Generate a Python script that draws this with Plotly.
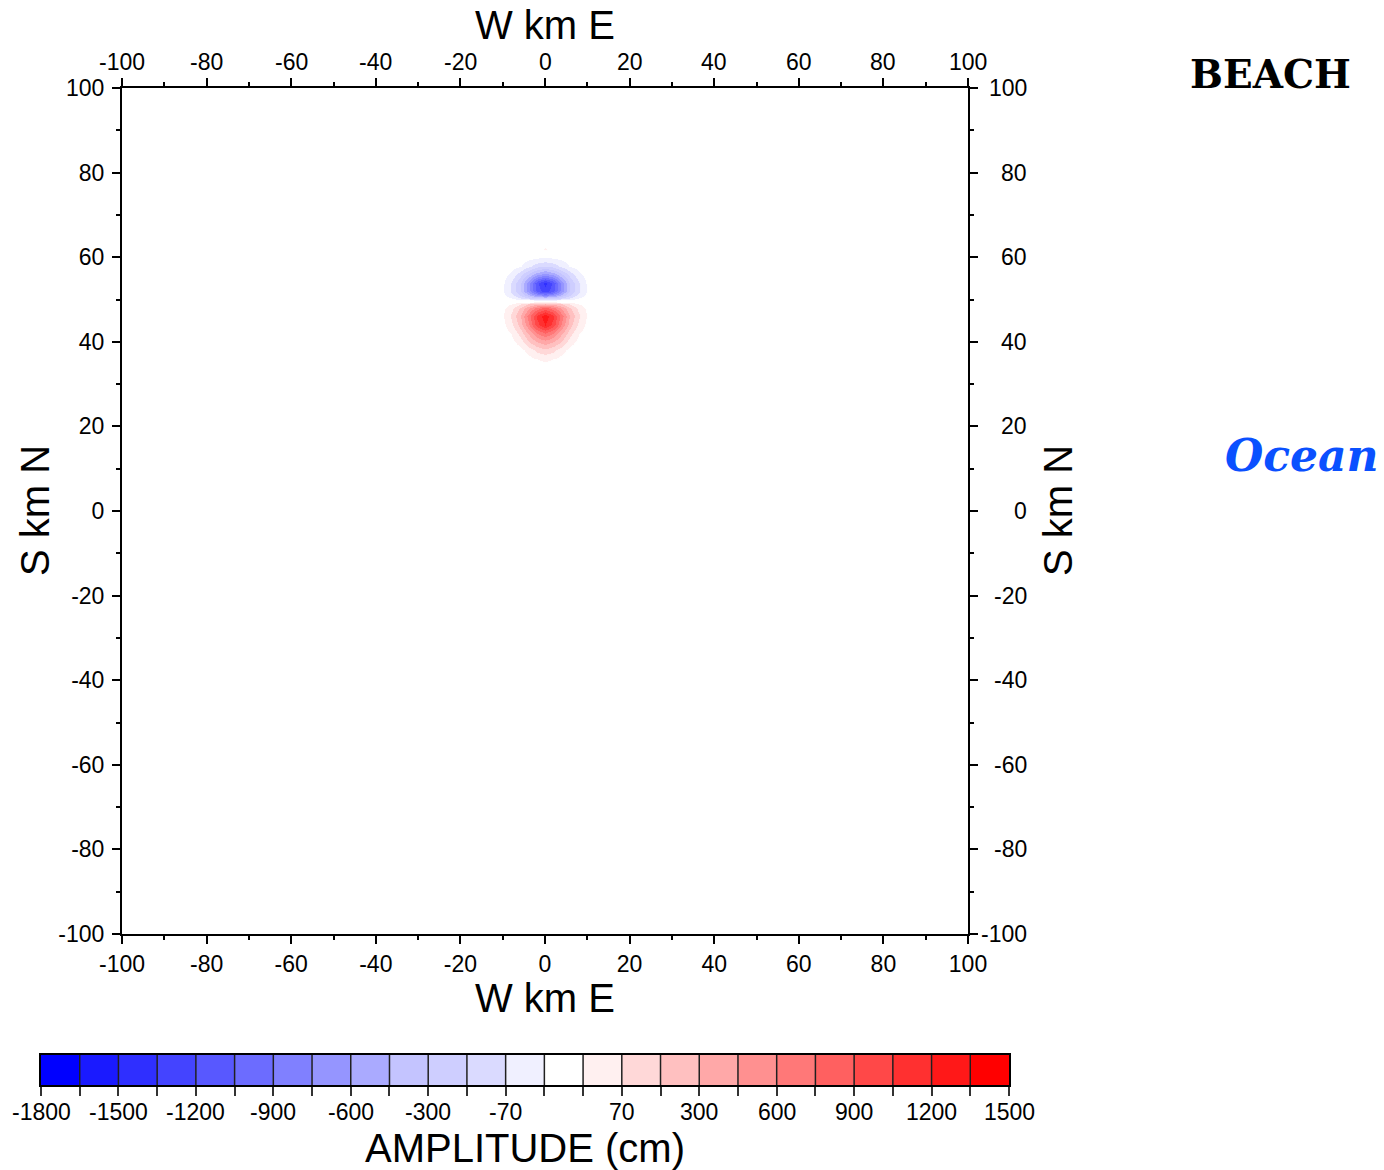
import numpy as np
import plotly.graph_objects as go

# ---------------- data ----------------
x_km = [-12, -10, -8, -6, -4, -2, 0, 2, 4, 6, 8, 10, 12]
y_km = [34, 36, 38, 40, 42, 44, 46, 48, 49, 49.4, 49.9, 50.4, 51, 52, 54, 56, 58, 60, 62, 64]

# amplitude (cm), rows follow y_km, columns follow x_km
amp_cm = [
    [0, 0, 0, 0, 1, 2, 3, 2, 1, 0, 0, 0, 0],
    [0, 0, 0, 1, 6, 20, 30, 20, 6, 1, 0, 0, 0],
    [0, 0, 1, 7, 36, 94, 130, 94, 36, 7, 1, 0, 0],
    [0, 1, 7, 38, 137, 295, 380, 295, 137, 38, 7, 1, 0],
    [0, 3, 21, 101, 308, 600, 750, 600, 308, 101, 21, 3, 0],
    [1, 9, 53, 206, 550, 988, 1200, 988, 550, 206, 53, 9, 1],
    [3, 17, 82, 274, 650, 1093, 1300, 1093, 650, 274, 82, 17, 3],
    [2, 11, 50, 169, 400, 673, 800, 673, 400, 169, 50, 11, 2],
    [1, 4, 19, 63, 150, 252, 300, 252, 150, 63, 19, 4, 1],
    [0, 0, 2, 6, 15, 25, 30, 25, 15, 6, 2, 0, 0],
    [0, 0, -2, -6, -15, -25, -30, -25, -15, -6, -2, 0, 0],
    [-1, -4, -19, -63, -150, -252, -300, -252, -150, -63, -19, -4, -1],
    [-2, -11, -50, -169, -400, -673, -800, -673, -400, -169, -50, -11, -2],
    [-3, -17, -82, -274, -650, -1093, -1300, -1093, -650, -274, -82, -17, -3],
    [-2, -14, -74, -266, -671, -1165, -1400, -1165, -671, -266, -74, -14, -2],
    [-1, -5, -29, -112, -298, -535, -650, -535, -298, -112, -29, -5, -1],
    [0, 0, -3, -15, -54, -116, -150, -116, -54, -15, -3, 0, 0],
    [0, 0, 0, -1, -4, -11, -15, -11, -4, -1, 0, 0, 0],
    [0, 0, 0, 0, 0, 0, 25, 0, 0, 0, 0, 0, 0],
    [0, 0, 0, 0, 0, 0, 0, 0, 0, 0, 0, 0, 0],
]

# colour-bar class boundaries (cm) and box colours
level_bounds = [-1800, -1650, -1500, -1350, -1200, -1050, -900, -750, -600, -450,
                -300, -150, -70, -20, 20, 70, 150, 300, 450, 600, 750, 900,
                1050, 1200, 1350, 1500]
level_colors = ["#0000FF", "#1A1AFF", "#2F2FFF", "#4444FF", "#5858FF", "#6C6CFF",
                "#8080FF", "#9595FF", "#AAAAFF", "#C4C4FF", "#CECEFF", "#DADAFF",
                "#F0F0FF", "#FFFFFF", "#FFF0F0", "#FFD8D8", "#FFC0C0", "#FFA8A8",
                "#FF9090", "#FF7878", "#FF6060", "#FF4848", "#FF3030", "#FF1818",
                "#FF0000"]
level_labels = ["-1800", "", "-1500", "", "-1200", "", "-900", "", "-600", "",
                "-300", "", "-70", "", "", "70", "", "300", "", "600", "", "900",
                "", "1200", "", "1500"]

axis_ticks = [-100, -80, -60, -40, -20, 0, 20, 40, 60, 80, 100]
axis_labels = [str(v) for v in axis_ticks]

# ---------------- layout helpers ----------------
W, H = 1384, 1170


def px(x):
    return x / W


def py(y):
    return 1 - y / H


FONT = "Liberation Sans, Arial, sans-serif"
TICKFONT = dict(family=FONT, size=23, color="black")

n_lev = len(level_colors)
idx = np.arange(len(level_bounds), dtype=float)
z_idx = np.interp(np.array(amp_cm, dtype=float), level_bounds, idx)

colorscale = []
for k, c in enumerate(level_colors):
    colorscale.append([k / n_lev, c])
    colorscale.append([(k + 1) / n_lev, c])

fig = go.Figure()

fig.add_trace(go.Heatmap(
    x=x_km, y=y_km, z=z_idx, zmin=0, zmax=n_lev, colorscale=colorscale,
    zsmooth="best", showscale=False, hoverinfo="skip",
    xaxis="x", yaxis="y",
))

# colour bar as its own axes
cb_centers = [k + 0.5 for k in range(n_lev)]
fig.add_trace(go.Heatmap(
    x=cb_centers, y=[0], z=[cb_centers], zmin=0, zmax=n_lev,
    colorscale=colorscale, showscale=False, hoverinfo="skip",
    xaxis="x2", yaxis="y2",
))
sep_x, sep_y = [], []
for k in range(1, n_lev):
    sep_x += [k, k, None]
    sep_y += [-0.5, 0.5, None]
fig.add_trace(go.Scatter(
    x=sep_x, y=sep_y, mode="lines", line=dict(color="#202020", width=1.5),
    hoverinfo="skip", showlegend=False, xaxis="x2", yaxis="y2",
))

dom_x = [px(122), px(968)]
dom_y = [py(934), py(88)]

common = dict(
    range=[-100, 100], tickmode="array", tickvals=axis_ticks, ticktext=axis_labels,
    ticks="outside", ticklen=8, tickwidth=1.5, tickcolor="black",
    showline=True, linewidth=2, linecolor="black", showgrid=False, mirror="allticks",
    zeroline=False, tickfont=TICKFONT, automargin=False,
    minor=dict(ticks="outside", ticklen=4, tickwidth=1.5, tickcolor="black",
               tickmode="linear", tick0=0, dtick=10, showgrid=False),
)

fig.update_layout(
    width=W, height=H, margin=dict(l=0, r=0, t=0, b=0, autoexpand=False),
    paper_bgcolor="white", plot_bgcolor="white", showlegend=False,
    xaxis=dict(domain=dom_x, anchor="y", side="bottom", ticklabelstandoff=0, **common),
    yaxis=dict(domain=dom_y, anchor="x", side="left", ticklabelstandoff=3, **common),
    xaxis2=dict(domain=[px(41), px(1009)], anchor="y2", range=[0, n_lev],
                tickmode="array", tickvals=list(range(len(level_bounds))),
                showticklabels=False, ticks="outside", ticklen=9, tickwidth=1.5,
                tickcolor="#333333", showline=True, mirror=True, linewidth=2,
                linecolor="black", showgrid=False, zeroline=False, automargin=False),
    yaxis2=dict(domain=[py(1085), py(1055)], anchor="x2", range=[-0.5, 0.5],
                showticklabels=False, ticks="", showline=True, mirror=True,
                linewidth=2, linecolor="black", showgrid=False, zeroline=False,
                automargin=False),
)

annotations = []
# right-side tick labels (right aligned) and top tick labels (centred)
for v, t in zip(axis_ticks, axis_labels):
    annotations.append(dict(x=px(1029), xref="paper", y=v, yref="y", text=t,
                            xanchor="right", yanchor="middle", showarrow=False,
                            font=TICKFONT))
    annotations.append(dict(x=v, xref="x", y=py(62), yref="paper", text=t,
                            xanchor="center", yanchor="middle", showarrow=False,
                            font=TICKFONT))
# colour-bar labels
for k, t in enumerate(level_labels):
    if t:
        annotations.append(dict(x=k, xref="x2", y=py(1112), yref="paper", text=t,
                                xanchor="center", yanchor="middle", showarrow=False,
                                font=TICKFONT))
n_tick_ann = len(annotations)

TITLE = dict(family=FONT, size=40, color="black")
annotations += [
    dict(x=px(545), y=py(25), text="W km E", font=TITLE),
    dict(x=px(545), y=py(998), text="W km E", font=TITLE),
    dict(x=px(35), y=py(511), text="S km N", textangle=-90, font=TITLE),
    dict(x=px(1058), y=py(511), text="S km N", textangle=-90, font=TITLE),
    dict(x=px(525), y=py(1148), text="AMPLITUDE (cm)", font=TITLE),
    dict(x=px(1270), y=py(74), text="<b>BEACH</b>",
         font=dict(family="DejaVu Serif, serif", size=39, color="black")),
    dict(x=px(1302), y=py(456), text="<b><i>Ocean</i></b>",
         font=dict(family="DejaVu Serif, serif", size=44, color="#0A50FF")),
]
for a in annotations[n_tick_ann:]:
    a.update(xref="paper", yref="paper", xanchor="center", yanchor="middle",
             showarrow=False)
fig.update_layout(annotations=annotations)

fig.write_html("out.html")
